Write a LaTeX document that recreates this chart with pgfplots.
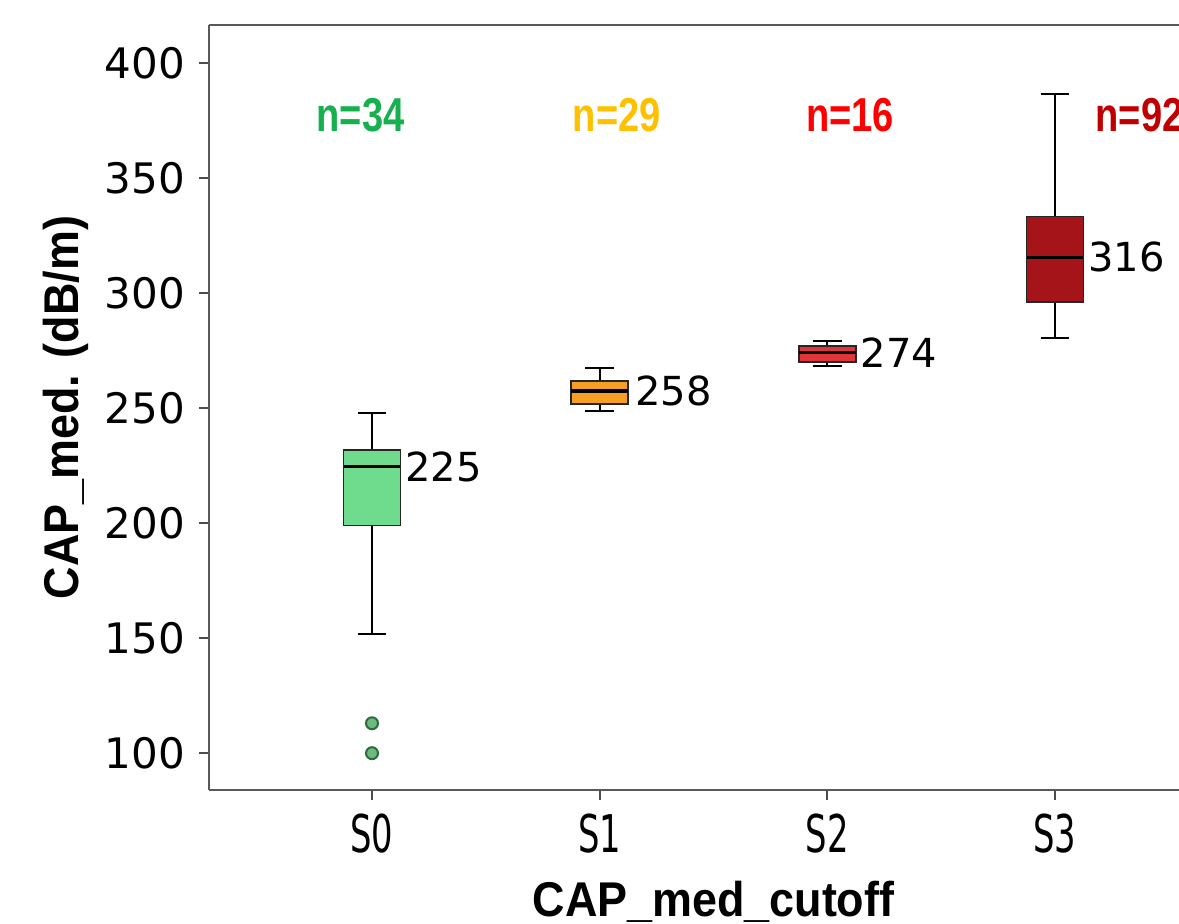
\documentclass[border=0pt]{standalone}
\usepackage{fontspec}
\setmainfont{DejaVu Sans}
\newfontfamily\xtickfont[FakeStretch=0.65]{DejaVu Sans}
\newfontfamily\nfont[FakeStretch=0.8]{Liberation Sans}
\newfontfamily\labelfont[FakeStretch=0.92]{Liberation Sans}
\usepackage{pgfplots}
\pgfplotsset{compat=1.18}
\usepgfplotslibrary{statistics}

\definecolor{fillA}{HTML}{6EDC8C}
\definecolor{fillB}{HTML}{F5A022}
\definecolor{fillC}{HTML}{E0353B}
\definecolor{fillD}{HTML}{A51419}
\definecolor{nA}{HTML}{16B04E}
\definecolor{nB}{HTML}{FFC000}
\definecolor{nC}{HTML}{FF0000}
\definecolor{nD}{HTML}{C00000}
\definecolor{outfill}{HTML}{6EB97F}
\definecolor{outdraw}{HTML}{2E6B3C}

\begin{document}
\begin{tikzpicture}
% crop like the reference (right side and title are cut off)
\useasboundingbox (-52.25pt,-33.25pt) rectangle (242.5pt,197.5pt);
\clip (-52.25pt,-33.25pt) rectangle (242.5pt,197.5pt);
\begin{axis}[
    at={(0,0)}, anchor=south west,
    scale only axis,
    width=252.25pt, height=191.25pt,
    xmin=-0.716, xmax=3.716,
    ymin=84, ymax=416.5,
    axis x line=box, axis y line=left,
    xtick={0,1,2,3},
    xticklabels={S0,S1,S2,S3},
    ytick={100,150,200,250,300,350,400},
    axis line style={draw=black!65, line width=0.6pt, -},
    tick style={draw=black!70, line width=0.5pt},
    tick align=outside,
    major tick length=2.5pt,
    xtick pos=bottom, ytick pos=left,
    /pgf/number format/assume math mode=true,
    yticklabel style={font=\fontsize{10.5}{12}\selectfont},
    xticklabel style={font=\xtickfont\fontsize{13}{15}\selectfont},
    xlabel={CAP\_med\_cutoff},
    ylabel={CAP\_med. (dB/m)},
    label style={font=\labelfont\bfseries\fontsize{12.2}{14}\selectfont},
    xlabel style={at={(axis description cs:0.5,-0.1176)}, anchor=north, inner sep=0pt},
    ylabel style={at={(axis description cs:-0.1655,0.5)}, anchor=north, inner sep=0pt, rotate=0},
    boxplot/draw direction=y,
    boxplot/every median/.style={draw=black, line width=0.8pt},
    boxplot/every whisker/.style={draw=black, line width=0.5pt},
    boxplot/every box/.style={draw=black!85, line width=0.4pt},
]

\addplot[fill=fillA, draw=black, mark=*, mark size=1.5pt,
    mark options={fill=outfill, draw=outdraw, line width=0.5pt},
    boxplot prepared={draw position=0, median=224.5,
      upper quartile=231.7, lower quartile=199,
      upper whisker=247.8, lower whisker=151.7,
      box extend=0.25, whisker extend=0.127}]
    table[row sep=\\, y index=0] {y\\113\\100\\};

\addplot[fill=fillB, draw=black,
    boxplot prepared={draw position=1, median=257.4,
      upper quartile=261.7, lower quartile=251.7,
      upper whisker=267.4, lower whisker=248.7,
      box extend=0.25, whisker extend=0.127}]
    coordinates {};

\addplot[fill=fillC, draw=black,
    boxplot prepared={draw position=2, median=274,
      upper quartile=277, lower quartile=270,
      upper whisker=279, lower whisker=268.3,
      box extend=0.25, whisker extend=0.127}]
    coordinates {};

\addplot[fill=fillD, draw=black,
    boxplot prepared={draw position=3, median=315.6,
      upper quartile=333.2, lower quartile=296,
      upper whisker=386.6, lower whisker=280.6,
      box extend=0.25, whisker extend=0.127}]
    coordinates {};

% median labels
\node[anchor=west, inner sep=1pt, font=\fontsize{10}{12}\selectfont] at (axis cs:0.125,224.5) {225};
\node[anchor=west, inner sep=1pt, font=\fontsize{10}{12}\selectfont] at (axis cs:1.135,257.4) {258};
\node[anchor=west, inner sep=1pt, font=\fontsize{10}{12}\selectfont] at (axis cs:2.125,274) {274};
\node[anchor=west, inner sep=1pt, font=\fontsize{10}{12}\selectfont] at (axis cs:3.125,315.6) {316};

% group sizes
\node[font=\nfont\bfseries\fontsize{11.9}{14}\selectfont, text=nA] at (axis cs:-0.05,377.4) {n=34};
\node[font=\nfont\bfseries\fontsize{11.9}{14}\selectfont, text=nB] at (axis cs:1.075,377.4) {n=29};
\node[font=\nfont\bfseries\fontsize{11.9}{14}\selectfont, text=nC] at (axis cs:2.1,377.4) {n=16};
\node[font=\nfont\bfseries\fontsize{11.9}{14}\selectfont, text=nD, anchor=west, inner sep=0pt] at (axis cs:3.175,377.4) {n=92};
\end{axis}
\end{tikzpicture}
\end{document}
